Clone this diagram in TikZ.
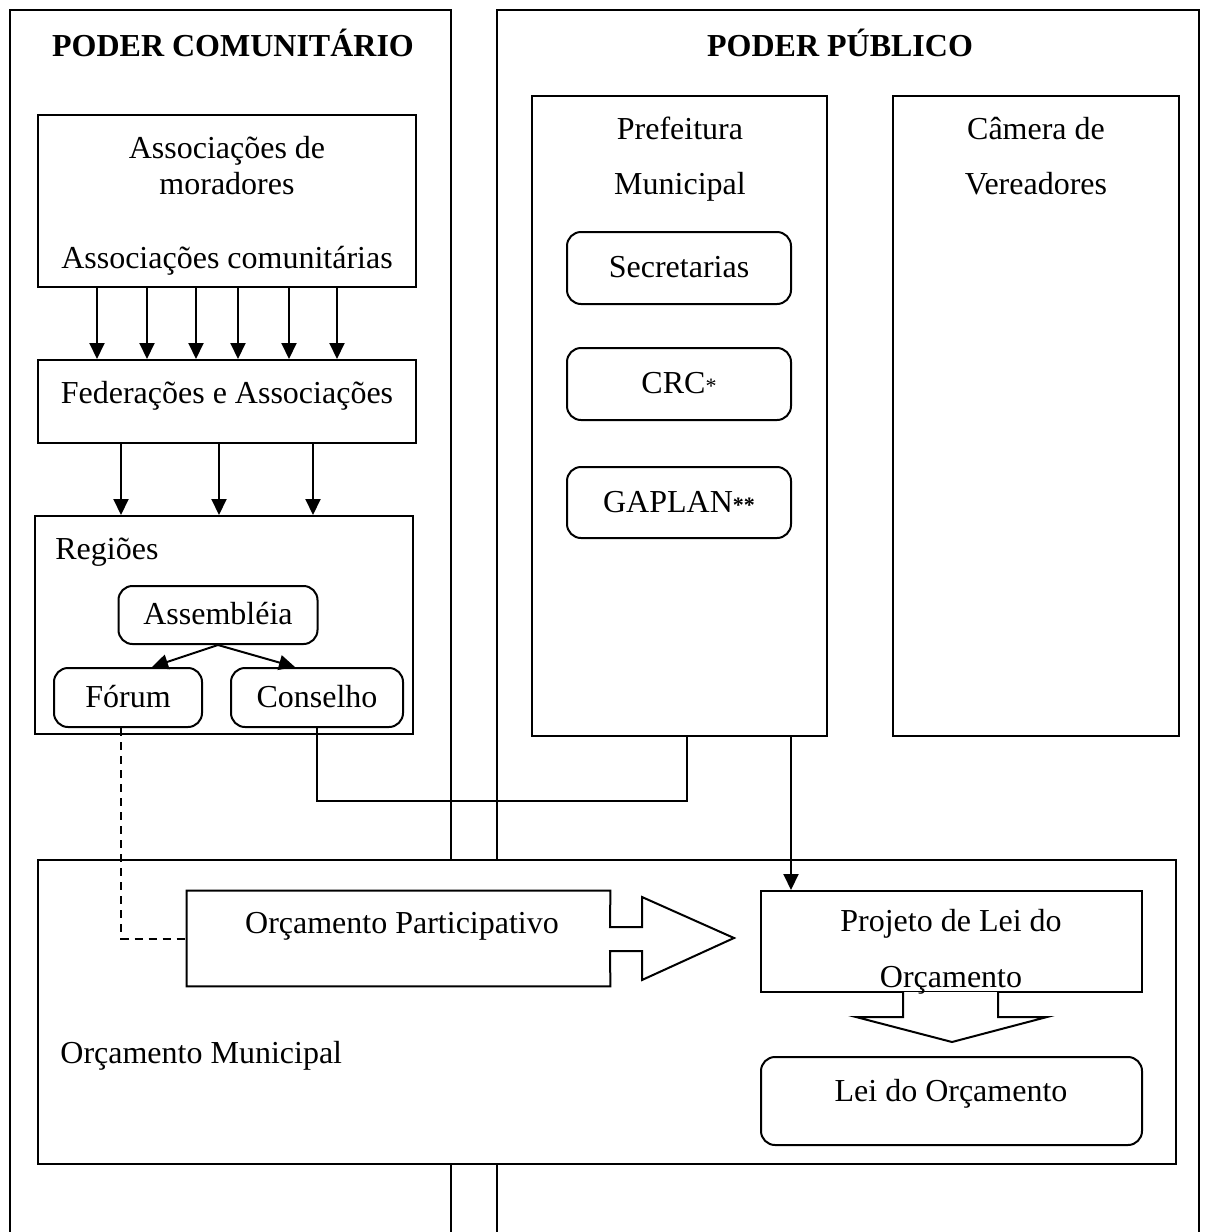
\documentclass[tikz,border=0pt]{standalone}
\usepackage{fontspec}
\setmainfont{Liberation Serif}
\usetikzlibrary{arrows.meta,fit}
\begin{document}
\begin{tikzpicture}[x=0.5pt,y=-0.5pt,
  frame/.style={draw,line width=1pt,rectangle,inner sep=0pt},
  rbox/.style={frame,rounded corners=7pt},
  area/.style={frame,fill=white},
  lbl/.style={inner sep=0pt,font=\fontsize{16}{19}\selectfont,text height=12pt,text depth=2.4pt,yshift=-1pt},
  ttl/.style={inner sep=0pt,font=\fontsize{16}{19}\selectfont\bfseries,text height=12pt,text depth=2.4pt,yshift=-1pt},
  flow/.style={line width=1pt,-{Triangle[width=7.5pt,length=8pt]}},
  link/.style={line width=1pt},
  dlink/.style={line width=1pt,dash pattern=on 4pt off 3pt},
  bigarrow/.style={line width=1pt,line join=miter,fill=white},
]
\useasboundingbox (0,0) rectangle (1210,1232);
\clip (0,0) rectangle (1210,1232);

% the two columns (open at the bottom)
\node[frame,fit={(10,10) (451,1260)}] (colcom) {};
\node[frame,fit={(497,10) (1199,1260)}] (colpub) {};
\node[ttl] (tcom) at (233,45) {PODER COMUNITÁRIO};
\node[ttl] (tpub) at (840,45) {PODER PÚBLICO};

% community side
\node[frame,fit={(38,115) (416,287)}] (assoc) {};
\node[lbl] (assoc1) at (227,147) {Associações de};
\node[lbl] (assoc2) at (227,183) {moradores};
\node[lbl] (assoc3) at (227,257) {Associações comunitárias};

\node[frame,fit={(38,360) (416,443)}] (fed) {};
\node[lbl] (fedtxt) at (227,392) {Federações e Associações};

\foreach \x in {97,147,196,238,289,337}
  \draw[flow] ([xshift={(\x-227)*0.5pt}]assoc.south) -- ([xshift={(\x-227)*0.5pt}]fed.north);

\node[frame,fit={(35,516) (413,734)}] (reg) {};
\node[lbl,anchor=west] (regtxt) at (55,548) {Regiões};
\foreach \x in {121,219,313}
  \draw[flow] ([xshift={(\x-227)*0.5pt}]fed.south) -- ([xshift={(\x-224)*0.5pt}]reg.north);

\node[rbox,lbl,yshift=1pt,minimum width=99.5pt,minimum height=29pt] (assem) at (218,615) {Assembléia};
\node[rbox,lbl,yshift=1pt,minimum width=74pt,minimum height=29.5pt] (forum) at (128,697.5) {Fórum};
\node[rbox,lbl,yshift=1pt,minimum width=86pt,minimum height=29.5pt] (cons) at (317,697.5) {Conselho};
\draw[flow] (assem.south) -- ([xshift=12pt]forum.north);
\draw[flow] (assem.south) -- ([xshift=-11pt]cons.north);

% public side
\node[frame,fit={(532,96) (827,736)}] (pref) {};
\node[lbl] (pref1) at (680,128) {Prefeitura};
\node[lbl] (pref2) at (680,183) {Municipal};
\node[rbox,lbl,yshift=1pt,minimum width=112pt,minimum height=36pt] (sec) at (679,268) {Secretarias};
\node[rbox,lbl,yshift=1pt,minimum width=112pt,minimum height=36pt] (crc) at (679,384) {CRC{\fontsize{11}{11}\selectfont*}};
\node[rbox,lbl,yshift=1pt,minimum width=112pt,minimum height=35.5pt] (gap) at (679,502.5) {GAPLAN{\fontsize{11}{11}\selectfont\bfseries**}};

\node[frame,fit={(893,96) (1179,736)}] (cam) {};
\node[lbl] (cam1) at (1036,128) {Câmera de};
\node[lbl] (cam2) at (1036,183) {Vereadores};

% municipal budget area
\node[area,fit={(38,860) (1176,1164)}] (mun) {};
\node[lbl,anchor=west] (muntxt) at (60,1052) {Orçamento Municipal};

% participatory budget block arrow
\node[inner sep=0pt,fit={(187,891) (610,986)}] (op) {};
\draw[bigarrow] (op.north west) -- (op.north east) -- (610,927) -- (642,927) -- (642,897)
  -- (734,938) -- (642,980) -- (642,951) -- (610,951) -- (op.south east) -- (op.south west) -- cycle;
\node[lbl] (optxt) at (402,922) {Orçamento Participativo};

% bill and law
\node[frame,fit={(761,891) (1142,992)}] (proj) {};
\draw[bigarrow] (903,992) -- (903,1017) -- (856,1017) -- (952,1042) -- (1047,1017) -- (998,1017) -- (998,992);
\node[lbl] (proj1) at (951,920) {Projeto de Lei do};
\node[lbl] (proj2) at (951,976) {Orçamento};

\node[rbox,fit={(761,1057) (1142,1145)}] (lei) {};
\node[lbl] (leitxt) at (951,1090) {Lei do Orçamento};

% connectors
\draw[dlink] ([xshift=-3.5pt]forum.south) |- (op.west);
\draw[link] (cons.south) -- ++(0,73) -| ([xshift=3.75pt]pref.south);
\draw[flow] ([xshift=55.75pt]pref.south) -- ([xshift=55.75pt]pref.south |- proj.north);
\end{tikzpicture}
\end{document}
